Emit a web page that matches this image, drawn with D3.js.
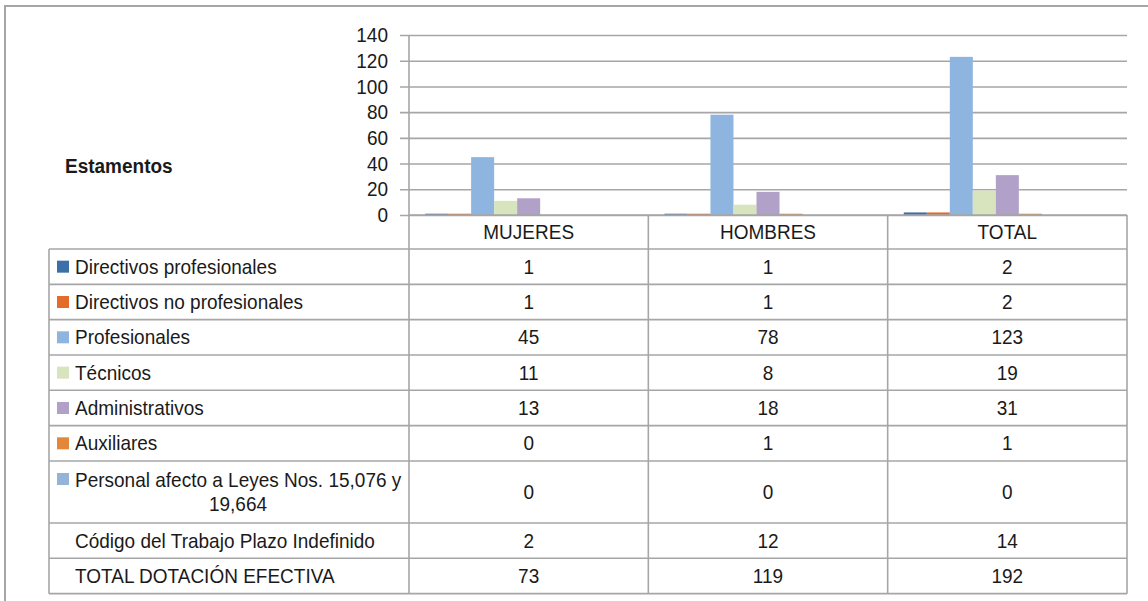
<!DOCTYPE html>
<html>
<head>
<meta charset="utf-8">
<script src="https://cdn.jsdelivr.net/npm/d3@7"></script>
<style>
  html, body { margin: 0; padding: 0; background: #fff; }
  svg text { font-family: "Liberation Sans", Arial, sans-serif; fill: #1a1a1a; }
</style>
</head>
<body>
<svg id="chart" width="1148" height="601"></svg>
<script>
"use strict";

// categorias (columnas)
const categories = ["MUJERES", "HOMBRES", "TOTAL"];
// estamentos (series)
const seriesNames = [
    "Directivos profesionales",
    "Directivos no profesionales",
    "Profesionales",
    "Técnicos",
    "Administrativos",
    "Auxiliares",
    "Personal afecto a Leyes Nos. 15,076 y 19,664",
    "Código del Trabajo Plazo Indefinido",
    "TOTAL DOTACIÓN EFECTIVA"
];
// valores por serie: MUJERES, HOMBRES, TOTAL
const seriesValues = [
    [1, 1, 2],
    [1, 1, 2],
    [45, 78, 123],
    [11, 8, 19],
    [13, 18, 31],
    [0, 1, 1],
    [0, 0, 0],
    [2, 12, 14],
    [73, 119, 192]
];
// colores (null = serie sin relleno)
const seriesColors = ["#3c6ea8", "#e46c2a", "#8eb4e0", "#d7e4bd", "#b1a0c7", "#e3873a", "#95b3d7", null, null];
// etiquetas del eje Y
const yTicks = [0, 20, 40, 60, 80, 100, 120, 140];

const svg = d3.select("#chart");
const lineColor = "#a6a6a6";

// estirar texto en vertical (la fuente original es mas alta)
function stretch(sel) {
    sel.attr("transform", function () {
        const yy = +this.getAttribute("y") || 0;
        return `translate(0,${yy}) scale(1,1.1) translate(0,${-yy})`;
    });
}

// area del grafico
const plot = { left: 409, right: 1127, top: 35, bottom: 215 };

const x0 = d3.scaleBand().domain(categories).range([plot.left, plot.right]);
const x1 = d3.scaleBand().domain(d3.range(seriesNames.length))
    .range([0, x0.bandwidth()]).paddingOuter(0.7).paddingInner(0);
const y = d3.scaleLinear().domain([0, 140]).range([plot.bottom, plot.top]);

// marco exterior
svg.append("path")
    .attr("d", "M5,601 L5,6 L1148,6")
    .attr("fill", "none").attr("stroke", lineColor).attr("stroke-width", 2);

// lineas de cuadricula + eje
const yAxis = d3.axisLeft(y).tickValues(yTicks)
    .tickSize(-(plot.right - plot.left)).tickPadding(21).tickFormat(d3.format("d"));
const gAxis = svg.append("g").attr("transform", `translate(${plot.left},0)`).call(yAxis);
gAxis.select(".domain").remove();
gAxis.selectAll(".tick line")
    .attr("x1", -9).attr("stroke", lineColor).attr("stroke-width", 1.6);
gAxis.selectAll(".tick text")
    .attr("font-size", 19).attr("fill", "#1a1a1a")
    .style("font-family", "'Liberation Sans', Arial, sans-serif")
    .call(stretch);
svg.append("line")
    .attr("x1", plot.left).attr("x2", plot.left)
    .attr("y1", plot.top).attr("y2", plot.bottom)
    .attr("stroke", lineColor).attr("stroke-width", 1.6);

// barras
const groups = svg.append("g").selectAll("g")
    .data(seriesNames.map((name, i) => ({ name, i, values: seriesValues[i], color: seriesColors[i] })))
    .join("g")
    .attr("fill", (d) => d.color || "none");
groups.selectAll("rect")
    .data((d) => d.values.map((v, j) => ({ v, cat: categories[j], i: d.i })))
    .join("rect")
    .attr("x", (d) => x0(d.cat) + x1(d.i))
    .attr("width", x1.bandwidth())
    .attr("y", (d) => y(Math.min(d.v, 140)))
    .attr("height", (d) => y(0) - y(Math.min(d.v, 140)));

// titulo de la tabla
svg.append("text")
    .attr("x", 65).attr("y", 173)
    .attr("font-size", 19).attr("font-weight", "bold")
    .text("Estamentos")
    .call(stretch);

// tabla de datos
const headerTop = plot.bottom, headerBottom = 249;
const rowH = 35.33, tallH = 62;
const labelLeft = 49;
const rowHeights = seriesNames.map((n, i) => i === 6 ? tallH : rowH);
const rowTops = [];
rowHeights.reduce((acc, h) => { rowTops.push(acc); return acc + h; }, headerBottom);
const tableBottom = rowTops[rowTops.length - 1] + rowHeights[rowHeights.length - 1];

const table = svg.append("g").attr("stroke", lineColor).attr("stroke-width", 1.6);
// lineas horizontales
table.append("line").attr("x1", plot.left).attr("x2", plot.right)
    .attr("y1", headerTop).attr("y2", headerTop);
rowTops.concat([tableBottom]).forEach((ty) => {
    table.append("line").attr("x1", labelLeft).attr("x2", plot.right)
        .attr("y1", ty).attr("y2", ty);
});
// lineas verticales
table.append("line").attr("x1", labelLeft).attr("x2", labelLeft)
    .attr("y1", headerBottom).attr("y2", tableBottom);
categories.forEach((c) => {
    table.append("line").attr("x1", x0(c)).attr("x2", x0(c))
        .attr("y1", headerTop).attr("y2", tableBottom);
});
table.append("line").attr("x1", plot.right).attr("x2", plot.right)
    .attr("y1", headerTop).attr("y2", tableBottom);

// encabezados
svg.append("g").selectAll("text").data(categories).join("text")
    .attr("x", (d) => x0(d) + x0.bandwidth() / 2)
    .attr("y", (headerTop + headerBottom) / 2 + 7)
    .attr("text-anchor", "middle").attr("font-size", 19)
    .text((d) => d)
    .call(stretch);

// filas
seriesNames.forEach((name, i) => {
    const cy = rowTops[i] + rowHeights[i] / 2;
    const g = svg.append("g");
    if (seriesColors[i]) {
        const sqY = i === 6 ? rowTops[i] + 12 : cy - 6;
        g.append("rect").attr("x", 57).attr("y", sqY)
            .attr("width", 12).attr("height", 12).attr("fill", seriesColors[i]);
    }
    if (i === 6) {
        g.append("text").attr("x", 75).attr("y", rowTops[i] + 26)
            .attr("font-size", 19).text("Personal afecto a Leyes Nos. 15,076 y");
        g.append("text").attr("x", 238).attr("y", rowTops[i] + 50)
            .attr("text-anchor", "middle").attr("font-size", 19).text("19,664");
    } else {
        g.append("text").attr("x", 75).attr("y", cy + 7)
            .attr("font-size", 19).text(name);
    }
    seriesValues[i].forEach((v, j) => {
        g.append("text")
            .attr("x", x0(categories[j]) + x0.bandwidth() / 2)
            .attr("y", cy + 7)
            .attr("text-anchor", "middle").attr("font-size", 19)
            .text(v);
    });
    g.selectAll("text").call(stretch);
});
</script>
</body>
</html>
